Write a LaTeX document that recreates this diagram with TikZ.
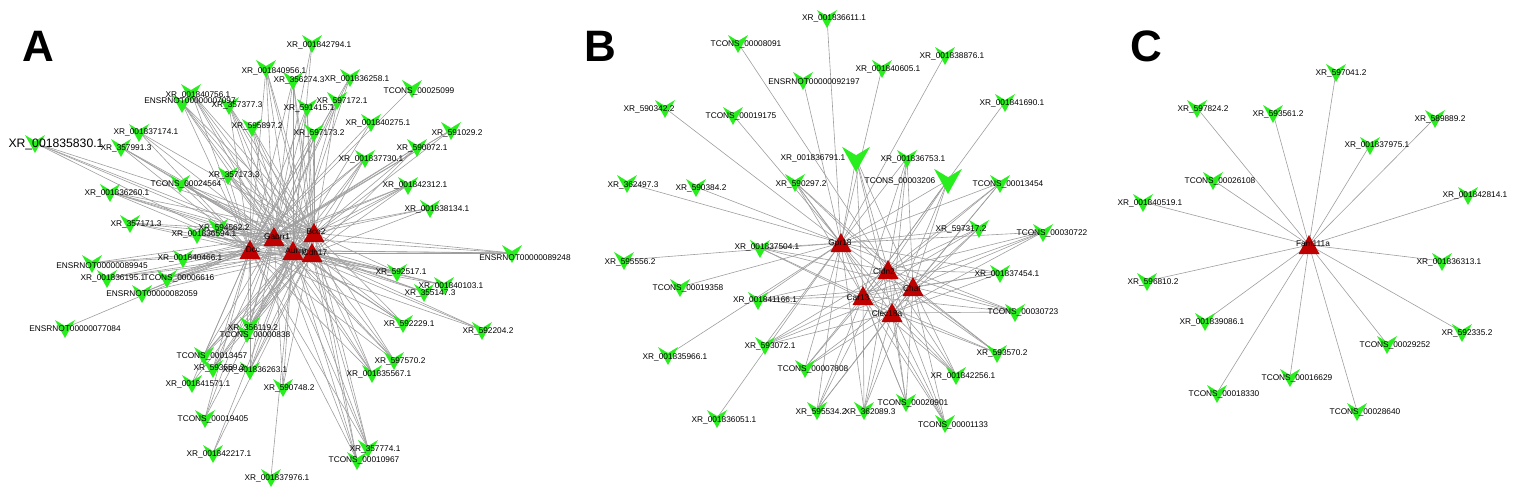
\documentclass[tikz,border=0pt]{standalone}
\usepackage{fontspec}
\setmainfont{Liberation Sans}
\definecolor{vg}{RGB}{40,238,30}
\definecolor{hr}{RGB}{190,0,0}
\definecolor{eg}{RGB}{158,158,158}
\def\Alist{a1/35/143/56/144/{\fontsize{12.2}{13}\selectfont XR\_001835830.1}/{hD,hG,hU,hB},
a2/121/147/126/147/XR\_357991.3/{hD,hG,hU,hC},
a3/139/132/146/131/XR\_001837174.1/{hD,hG,hB},
a4/182/103/190/100/ENSRNOT00000007097/{hD,hG,hU,hB,hC},
a5/191/92/198/94/XR\_001840756.1/{hD,hG,hU,hB,hC},
a6/229/105/237/104/XR\_357377.3/{hD,hG,hU,hB,hC},
a7/252/127/257/125/XR\_595897.2/{hD,hG,hU,hB,hC},
a8/312/43/319/44/XR\_001842794.1/{hG,hU},
a9/266/68/274/70/XR\_001840956.1/{hD,hG,hU,hB,hC},
a10/293/80/299/79/XR\_356274.3/{hD,hG,hU,hB,hC},
a11/350/77/357/78/XR\_001836258.1/{hD,hG,hU},
a12/412/88/419/90/TCONS\_00025099/{hD},
a13/307/107/309/107/XR\_591415.1/{hD,hG,hU,hB,hC},
a14/337/100/342/100/XR\_597172.1/{hD,hG,hU,hC},
a15/371/122/378/122/XR\_001840275.1/{hD,hU},
a16/314/132/319/132/XR\_597173.2/{hD,hG,hU,hB,hC},
a17/451/130/457/132/XR\_591029.2/{hD,hG,hU},
a18/417/147/422/147/XR\_590072.1/{hD,hG,hU,hC},
a19/365/158/371/158/XR\_001837730.1/{hD,hG,hU,hB,hC},
a20/180/183/186/183/TCONS\_00024564/{hD,hG,hU,hB,hC},
a21/228/175/234/174/XR\_357173.3/{hD,hG,hU,hB,hC},
a22/110/192/117/192/XR\_001836260.1/{hD,hG,hU,hB,hC},
a23/130/223/136/223/XR\_357171.3/{hD,hG,hU,hB},
a24/218/227/224/227/XR\_594562.2/{hD,hG,hU,hB,hC},
a25/197/234/204/233/XR\_001836594.1/{hD,hG,hU,hB,hC},
a26/183/258/190/257/XR\_001840466.1/{hD,hG,hU,hB,hC},
a27/92/263/102/265/ENSRNOT00000089945/{hD,hG,hU},
a28/107/278/113/277/XR\_001836195.1/{hD,hU,hC},
a29/167/278/179/277/TCONS\_00006616/{hD,hG,hU,hB,hC},
a30/142/293/152/293/ENSRNOT00000082059/{hD,hG,hC},
a31/408/185/415/184/XR\_001842312.1/{hD,hG,hU,hB,hC},
a32/430/208/437/208/XR\_001838134.1/{hG,hB,hC},
a33/512/253/525/257/ENSRNOT00000089248/{hD,hG,hU,hB,hC},
a34/397/272/401/271/XR\_592517.1/{hD,hG,hU,hB,hC},
a35/444/285/451/285/XR\_001840103.1/{hD,hU,hC},
a36/424/292/430/292/XR\_355147.3/{hG,hU,hC},
a37/65/328/75/328/ENSRNOT00000077084/{hD},
a38/204/355/212/355/TCONS\_00013457/{hD,hG,hU,hB,hC},
a39/213/368/219/367/XR\_593559.2/{hD,hG,hU,hB,hC},
a40/192/383/198/383/XR\_001841571.1/{hD,hU},
a41/205/418/213/418/TCONS\_00019405/{hD,hG,hU},
a42/213/453/219/453/XR\_001842217.1/{hU,hC},
a43/250/370/255/369/XR\_001836263.1/{hD,hG,hU,hB,hC},
a44/247/333/255/334/TCONS\_00000838/{hD,hG,hU,hB,hC},
a45/250/325/253/327/XR\_356119.2/{hD,hG,hU,hB,hC},
a46/403/323/409/323/XR\_592229.1/{hD,hG,hU,hB,hC},
a47/482/330/488/330/XR\_592204.2/{hD,hU,hC},
a48/394/360/400/360/XR\_597570.2/{hD,hG,hU,hB,hC},
a49/372/373/379/373/XR\_001835567.1/{hD,hG,hU,hB,hC},
a50/283/387/289/387/XR\_590748.2/{hG,hU,hB},
a51/368/448/375/448/XR\_357774.1/{hD,hG,hU,hB,hC},
a52/357/460/364/459/TCONS\_00010967/{hD,hG,hU,hB,hC},
a53/271/477/277/477/XR\_001837976.1/{hU}}
\def\Blist{b1/827/18/834/17/XR\_001836611.1/{hP},
b2/738/43/746/43/TCONS\_00008091/{hL},
b3/945/55/952/55/XR\_001838876.1/{hP},
b4/882/68/888/68/XR\_001840605.1/{hP},
b5/803/80/814/81/ENSRNOT00000092197/{hP},
b6/1005/102/1012/102/XR\_001841690.1/{hR},
b7/733/115/741/115/TCONS\_00019175/{hP},
b8/665/108/649/108/XR\_590342.2/{hP},
b9/627/183/633/184/XR\_362497.3/{hP},
b10/696/187/701/187/XR\_590384.2/{hP},
b11/856/158/813/157/XR\_001836791.1/{hP,hL,hH,hR,hE},
b12/948/180/900/180/TCONS\_00003206/{hP,hL,hH,hR,hE},
b13/907/158/913/158/XR\_001836753.1/{hP,hL,hH,hR,hE},
b14/795/182/801/183/XR\_590297.2/{hP,hL,hH,hR,hE},
b15/1000/183/1008/183/TCONS\_00013454/{hP,hL,hH,hR,hE},
b16/979/228/961/228/XR\_597317.2/{hP,hL,hH,hR,hE},
b17/1043/232/1052/232/TCONS\_00030722/{hP,hL,hH,hR,hE},
b18/1000/273/1007/273/XR\_001837454.1/{hP,hL,hH,hR,hE},
b19/1015/312/1023/311/TCONS\_00030723/{hP,hL,hH,hR,hE},
b20/997/353/1002/352/XR\_593570.2/{hP,hL,hH,hR,hE},
b21/956/375/963/375/XR\_001842256.1/{hP,hL,hH,hR,hE},
b22/945/423/953/424/TCONS\_00001133/{hP,hL,hH,hR,hE},
b23/906/402/913/402/TCONS\_00020901/{hP,hL,hH,hR,hE},
b24/864/410/870/411/XR\_362089.3/{hP,hL,hH,hR,hE},
b25/817/410/821/411/XR\_595534.2/{hP,hL,hH,hR,hE},
b26/805/368/813/368/TCONS\_00007808/{hP,hL,hH,hR,hE},
b27/765/345/770/345/XR\_593072.1/{hP,hL,hH,hR,hE},
b28/758/300/765/299/XR\_001841166.1/{hP,hL,hH,hR,hE},
b29/760/248/767/246/XR\_001837504.1/{hP,hL,hH,hR,hE},
b30/624/260/630/261/XR\_595556.2/{hP},
b31/680/287/688/287/TCONS\_00019358/{hP},
b32/668/355/675/356/XR\_001835966.1/{hP},
b33/717/418/724/419/XR\_001836051.1/{hP}}
\def\Clist{c1/1336/72/1341/72/XR\_597041.2/{hF},
c2/1197/108/1203/108/XR\_597824.2/{hF},
c3/1273/113/1278/113/XR\_593561.2/{hF},
c4/1435/118/1440/118/XR\_589889.2/{hF},
c5/1370/145/1377/144/XR\_001837975.1/{hF},
c6/1213/180/1220/180/TCONS\_00026108/{hF},
c7/1143/202/1150/202/XR\_001840519.1/{hF},
c8/1468/195/1475/194/XR\_001842814.1/{hF},
c9/1442/261/1449/261/XR\_001836313.1/{hF},
c10/1147/281/1153/281/XR\_596810.2/{hF},
c11/1205/321/1212/321/XR\_001839086.1/{hF},
c12/1462/332/1467/332/XR\_592335.2/{hF},
c13/1387/344/1395/344/TCONS\_00029252/{hF},
c14/1290/377/1297/377/TCONS\_00016629/{hF},
c15/1217/393/1224/393/TCONS\_00018330/{hF},
c16/1357/411/1365/411/TCONS\_00028640/{hF}}
\newcommand\phaseEdges[1]{%
  \foreach \nm/\vx/\vy/\lx/\ly/\tx/\hl in #1 {%
    \coordinate (\nm) at (\vx,\vy);
    \foreach \h in \hl {\draw[edge] (\h) -- (\nm);}
  }}
\newcommand\phaseShapes[1]{%
  \foreach \nm/\vx/\vy/\lx/\ly/\tx/\hl in #1 {%
    \fill[vg,shift={(\nm)}] (-10,-8) -- (0,-2) -- (10,-8) -- (0,10) -- cycle;
  }}
\newcommand\phaseLabels[1]{%
  \foreach \nm/\vx/\vy/\lx/\ly/\tx/\hl in #1 {%
    \node[lab] (\nm-l) at (\lx,\ly) {\tx};
  }}
\begin{document}
\begin{tikzpicture}[x=1pt,y=-1pt,
  edge/.style={draw=eg,line width=0.6pt},
  lab/.style={font=\fontsize{8.3}{9}\selectfont,inner sep=0pt,text height=6pt,text depth=0pt},
  panel/.style={font=\fontsize{44}{44}\selectfont\bfseries,inner sep=0pt}]
\useasboundingbox (0,0) rectangle (1515,498);
% hubs
\foreach \nm/\hx/\hy in {hD/250/250, hG/274/237, hU/293/251, hB/314/233, hC/312/253,
  hP/841/243, hL/888/270, hH/913/287, hR/863/296, hE/892/313, hF/1309/245}
  \coordinate (\nm) at (\hx,\hy);
% edges
\phaseEdges{\Alist}
\phaseEdges{\Blist}
\phaseEdges{\Clist}
% target shapes
\phaseShapes{\Alist}
\phaseShapes{\Blist}
\phaseShapes{\Clist}
\fill[vg,shift={(b11)},scale=1.4] (-10,-8) -- (0,-2) -- (10,-8) -- (0,10) -- cycle;
\fill[vg,shift={(b12)},scale=1.4] (-10,-8) -- (0,-2) -- (10,-8) -- (0,10) -- cycle;
% hub shapes
\foreach \nm in {hD,hG,hU,hB,hC,hP,hL,hH,hR,hE,hF}
  \fill[hr,shift={(\nm)}] (-10.5,9) -- (10.5,9) -- (0,-10) -- cycle;
% labels
\phaseLabels{\Alist}
\phaseLabels{\Blist}
\phaseLabels{\Clist}
\foreach \nm/\lx/\ly/\tx in {hD/253/249/Dcc, hG/277/236/Gabrr1, hU/296/250/Aunip,
  hB/316/231/Bco2, hC/315/252/Cdh17, hP/840/242/Gpr18, hL/884/271/Cldn2,
  hH/912/288/Chat, hR/858/297/Car13, hE/887/313/Clec18a, hF/1313/243/Fam111a}
  \node[lab] (\nm-l) at (\lx,\ly) {\tx};
\node[panel] (pA) at (38,46) {A};
\node[panel] (pB) at (600,46) {B};
\node[panel] (pC) at (1146,46) {C};
\end{tikzpicture}
\end{document}
